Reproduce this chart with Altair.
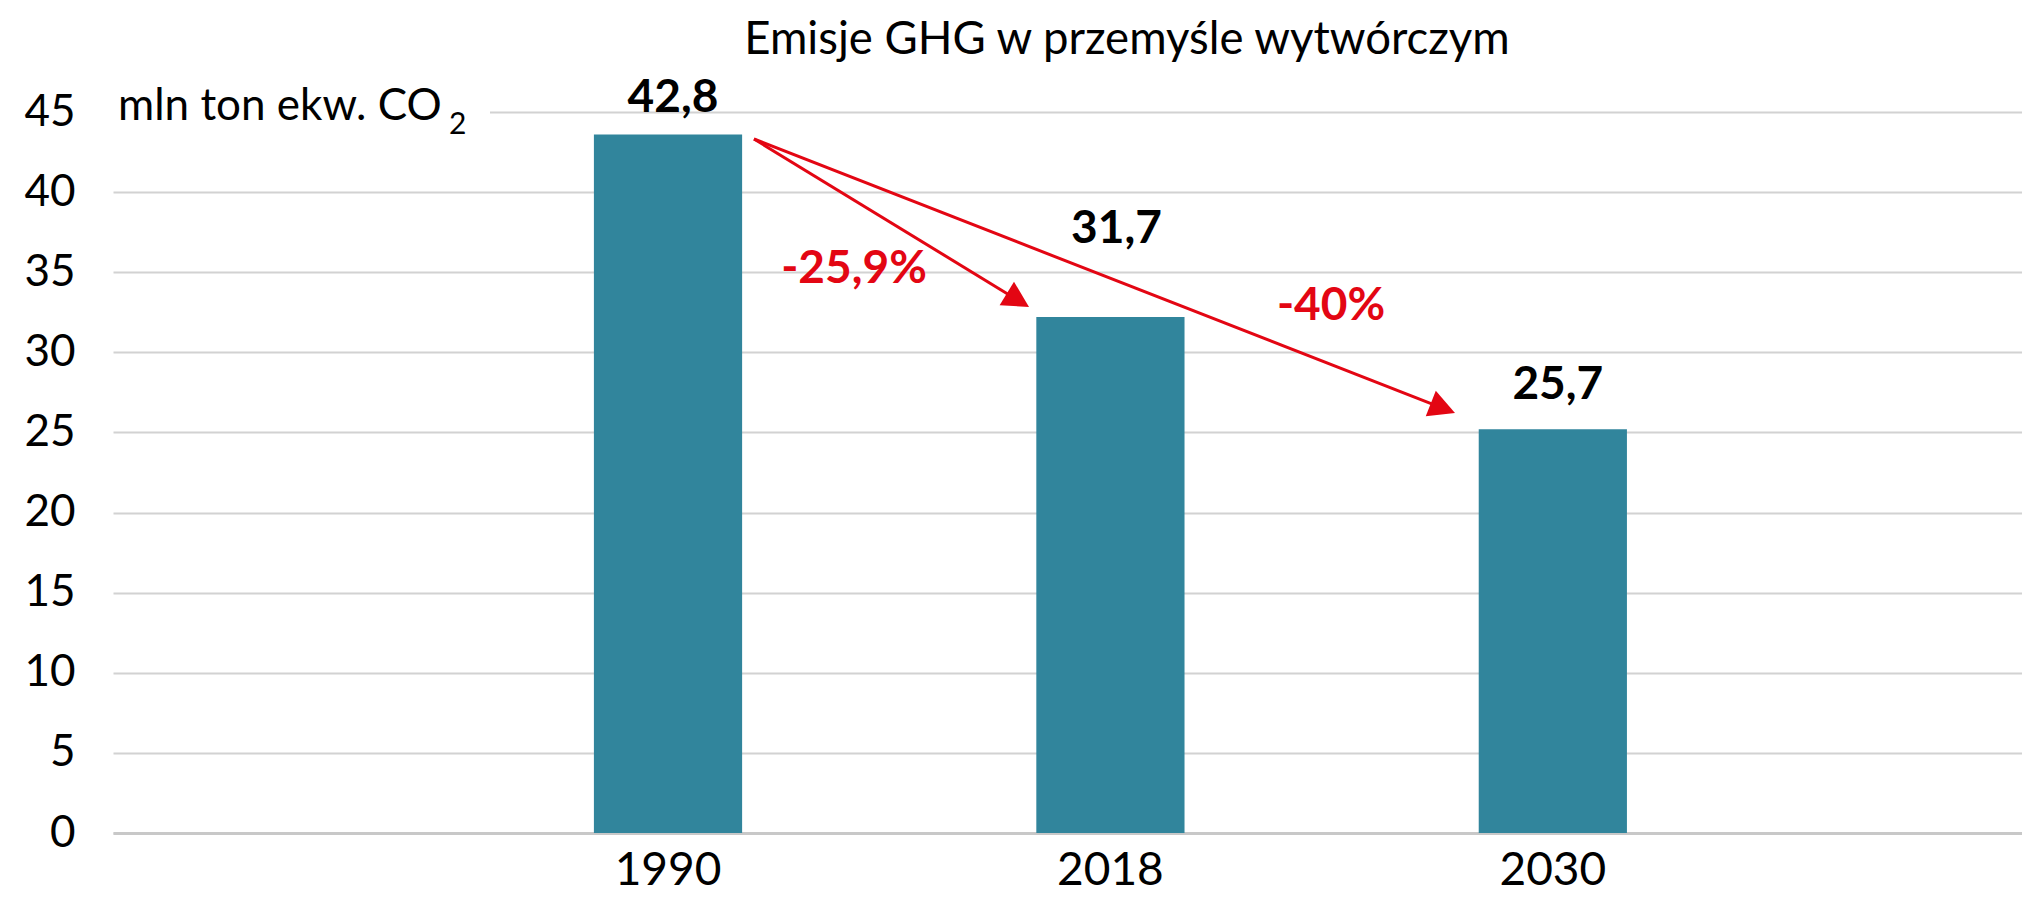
import altair as alt
import pandas as pd
import math

# ---- data ----
years = ["1990", "2018", "2030"]
bar_values = [43.6, 32.2, 25.2]          # bar heights as drawn
value_labels = ["42,8", "31,7", "25,7"]  # printed data labels
change_labels = ["-25,9%", "-40%"]
y_ticks = [0, 5, 10, 15, 20, 25, 30, 35, 40, 45]

title_text = "Emisje GHG w przemyśle wytwórczym"
unit_text = "mln ton ekw. CO"
unit_sub = "2"

TEAL = "#31859C"
RED = "#E30613"
FONT = "Lato"

W, H = 1909, 721

df = pd.DataFrame({"year": years, "value": bar_values, "label": value_labels})
one = pd.DataFrame({"a": [0]})

x_scale = alt.Scale(domain=years, paddingInner=0.665, paddingOuter=0.99, align=0.549)
y_scale = alt.Scale(domain=[0, 45], nice=False, zero=True)

bars = alt.Chart(df).mark_bar(color=TEAL).encode(
    x=alt.X("year:N", scale=x_scale, sort=years,
            axis=alt.Axis(title=None, labelAngle=0, labelFont=FONT, labelFontSize=46,
                          labelColor="black", labelPadding=15, ticks=False,
                          domainColor="#C8C8C8", domainWidth=3, grid=False)),
    y=alt.Y("value:Q", scale=y_scale,
            axis=alt.Axis(title=None, values=y_ticks, labelFont=FONT, labelFontSize=44,
                          labelColor="black", labelPadding=38, ticks=False, domain=False,
                          grid=True, gridColor="#D2D2D2", gridWidth=2)),
)

# white mask behind the unit label (hides the 45 gridline there)
mask = alt.Chart(one).mark_rect(color="white").encode(
    x=alt.value(0), x2=alt.value(377), y=alt.value(-6), y2=alt.value(6)
)

title = alt.Chart(one).mark_text(align="center", baseline="alphabetic", font=FONT,
                                 fontSize=45.5, color="black").encode(
    x=alt.value(1014), y=alt.value(-58), text=alt.value(title_text))

unit = alt.Chart(one).mark_text(align="left", baseline="alphabetic", font=FONT,
                                fontSize=44, color="black").encode(
    x=alt.value(5), y=alt.value(8), text=alt.value(unit_text))
unit2 = alt.Chart(one).mark_text(align="left", baseline="alphabetic", font=FONT,
                                 fontSize=30, color="black").encode(
    x=alt.value(336), y=alt.value(22), text=alt.value(unit_sub))

# data labels (each manually offset as in the reference)
label_dx = [5, 6, 5]
label_dy = [-22, -74, -30]
label_layers = []
for yr, dx, dy in zip(years, label_dx, label_dy):
    label_layers.append(
        alt.Chart(df).transform_filter(alt.datum.year == yr).mark_text(
            font=FONT, fontSize=46, fontWeight="bold", color="black",
            baseline="alphabetic", dx=dx, dy=dy
        ).encode(x=alt.X("year:N", scale=x_scale, sort=years),
                 y=alt.Y("value:Q", scale=y_scale),
                 text="label:N")
    )

# arrows (annotation)
def arrow(x0, y0, x1, y1):
    L = math.hypot(x1 - x0, y1 - y0)
    ang = math.degrees(math.atan2(y1 - y0, x1 - x0))
    ex = x1 - (x1 - x0) / L * 14
    ey = y1 - (y1 - y0) / L * 14
    line = alt.Chart(one).mark_rule(color=RED, strokeWidth=3).encode(
        x=alt.value(x0), y=alt.value(y0), x2=alt.value(ex), y2=alt.value(ey))
    head = alt.Chart(one).mark_point(
        shape="M0,0 L-1,-0.53 L-1,0.53 Z", filled=True, color=RED, opacity=1,
        size=2704, angle=round(ang, 2)).encode(x=alt.value(x1), y=alt.value(y1))
    return [line, head]

arrows = arrow(641, 27, 916, 195) + arrow(641, 27, 1342, 301)

changes = [
    alt.Chart(one).mark_text(font=FONT, fontSize=46, fontWeight="bold", color=RED,
                             baseline="alphabetic").encode(
        x=alt.value(741), y=alt.value(171), text=alt.value(change_labels[0])),
    alt.Chart(one).mark_text(font=FONT, fontSize=46, fontWeight="bold", color=RED,
                             baseline="alphabetic").encode(
        x=alt.value(1218), y=alt.value(208), text=alt.value(change_labels[1])),
]

chart = alt.layer(mask, bars, title, unit, unit2, *label_layers, *arrows, *changes).properties(
    width=W, height=H,
    padding={"left": 105, "top": 104, "right": 0, "bottom": 62},
    autosize=alt.AutoSizeParams(type="none"),
).configure_view(strokeWidth=0)

chart.save("out.html", embed_options={"renderer": "svg", "actions": False})
